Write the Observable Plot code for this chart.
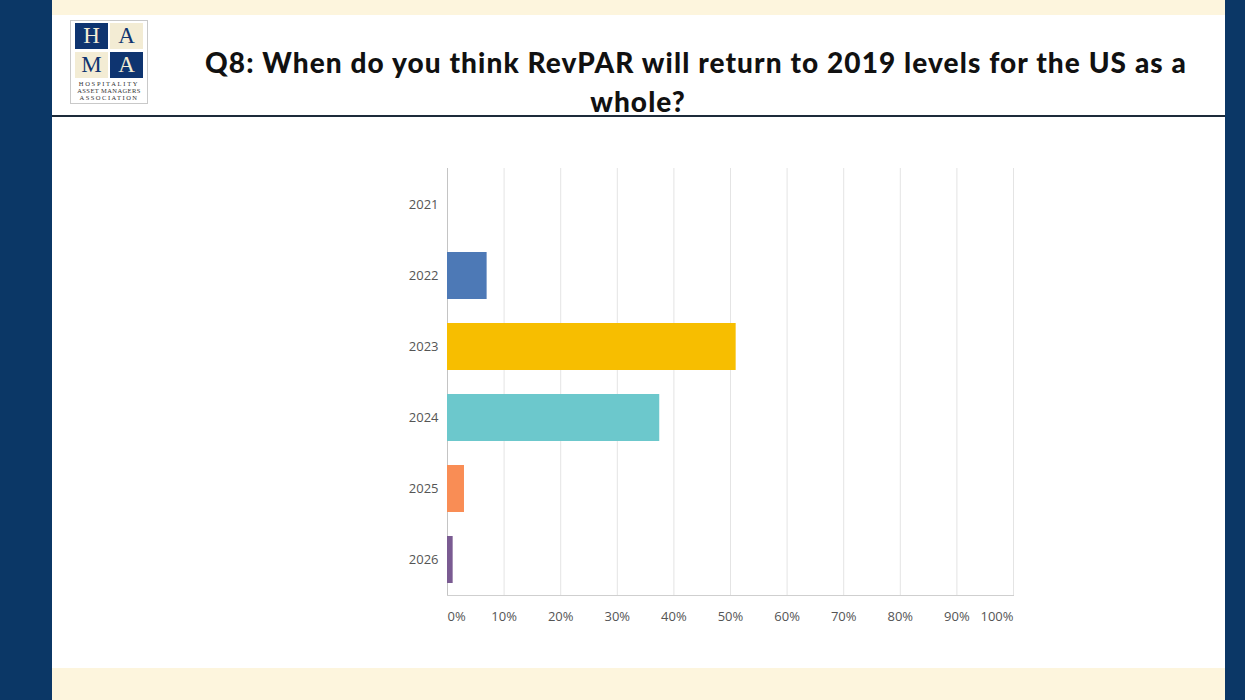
<!DOCTYPE html>
<html>
<head>
<meta charset="utf-8">
<script src="https://cdn.jsdelivr.net/npm/d3@7"></script>
<script src="https://cdn.jsdelivr.net/npm/@observablehq/plot@0.6"></script>
<style>
  html, body { margin:0; padding:0; }
  body { width:1245px; height:700px; position:relative; overflow:hidden; background:#fdf5dd; font-family:"Open Sans", sans-serif; }
  .abs { position:absolute; }
  #content { left:52px; top:15px; width:1173px; height:653px; background:#ffffff; }
  #leftbar { left:0; top:0; width:52px; height:700px; background:#0b3766; }
  #rightbar { left:1225px; top:0; width:20px; height:700px; background:#0b3766; }
  #rule { left:52px; top:115px; width:1173px; height:2px; background:#1d2b3a; }
  .title { font-family:"Lato", sans-serif; font-weight:900; font-size:28px; line-height:28px; color:#111; white-space:nowrap; letter-spacing:1.1px; }
  #logo { left:70px; top:20px; width:78px; height:84px; border:1px solid #c9c9c9; background:#fff; box-sizing:border-box; }
  .sq { position:absolute; width:33px; height:26px; font-family:"Liberation Serif", serif; font-size:23px; line-height:26px; text-align:center; }
  .nv { background:#0e3470; color:#f3ecd4; }
  .cr { background:#f3ecd4; color:#0e3470; }
  .lt { position:absolute; left:0; width:76px; text-align:center; font-family:"Liberation Serif", serif; font-size:6.5px; line-height:6.5px; height:6.5px; color:#333; white-space:nowrap; }
  #chart { left:380px; top:150px; }
</style>
</head>
<body>
<div class="abs" id="content"></div>
<div class="abs" id="leftbar"></div>
<div class="abs" id="rightbar"></div>
<div class="abs" id="logo">
  <div class="sq nv" style="left:4px;top:2px;">H</div>
  <div class="sq cr" style="left:39px;top:2px;">A</div>
  <div class="sq cr" style="left:4px;top:31px;">M</div>
  <div class="sq nv" style="left:39px;top:31px;">A</div>
  <div class="lt" style="top:60px;letter-spacing:1.7px;">HOSPITALITY</div>
  <div class="lt" style="top:67px;letter-spacing:0.4px;">ASSET MANAGERS</div>
  <div class="lt" style="top:74px;letter-spacing:1.5px;">ASSOCIATION</div>
</div>
<div class="abs title" id="t1" style="left:205px;top:48px;">Q8: When do you think RevPAR will return to 2019 levels for the US as a</div>
<div class="abs title" id="t2" style="left:538px;top:87px;width:200px;text-align:center;">whole?</div>
<div class="abs" id="rule"></div>
<div class="abs" id="chart"></div>
<script>
const years = ["2021", "2022", "2023", "2024", "2025", "2026"];
const shares = [0, 7, 51, 37.5, 3, 1];
const barColors = ["#4d79b6", "#4d79b6", "#f7be00", "#6cc8cc", "#f98d55", "#7a5b92"];
const xTicks = [0, 10, 20, 30, 40, 50, 60, 70, 80, 90, 100];

const data = years.map((y, i) => ({year: y, share: shares[i], color: barColors[i]}));
const fmt = d => d + "%";

const chart = Plot.plot({
  width: 660,
  height: 490,
  marginLeft: 67,
  marginRight: 27,
  marginTop: 18,
  marginBottom: 45,
  style: {fontFamily: "'Open Sans', sans-serif", fontSize: "13px", color: "#555", background: "transparent"},
  x: {domain: [0, 100], label: null},
  y: {domain: years, paddingInner: 0.34, paddingOuter: 0.17, label: null},
  marks: [
    Plot.gridX(xTicks, {stroke: "#e4e4e4", strokeOpacity: 1}),
    Plot.frame({anchor: "bottom", stroke: "#cfcfcf"}),
    Plot.ruleX([0], {stroke: "#c4c4c4"}),
    Plot.barX(data, {x: "share", y: "year", fill: "color"}),
    Plot.axisY({tickSize: 0, tickPadding: 9, fill: "#555", label: null}),
    Plot.axisX([0], {tickSize: 0, tickPadding: 16, textAnchor: "start", tickFormat: fmt, fill: "#555", label: null}),
    Plot.axisX(xTicks.slice(1, -1), {tickSize: 0, tickPadding: 16, tickFormat: fmt, fill: "#555", label: null}),
    Plot.axisX([100], {tickSize: 0, tickPadding: 16, textAnchor: "end", tickFormat: fmt, fill: "#555", label: null})
  ]
});
document.getElementById("chart").appendChild(chart);
</script>
</body>
</html>
